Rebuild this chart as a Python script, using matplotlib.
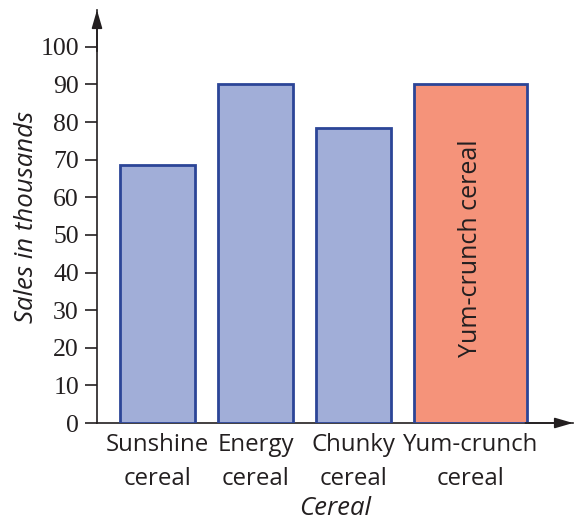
import matplotlib.pyplot as plt
import numpy as np

plt.rcParams['font.serif'] = ['Liberation Serif', 'DejaVu Serif']

# cereal sales (thousands)
cereals = ['Sunshine\ncereal', 'Energy\ncereal', 'Chunky\ncereal', 'Yum-crunch\ncereal']
sales = [68.5, 90, 78.5, 90]
inside_label = 'Yum-crunch cereal'

widths = [0.75, 0.75, 0.75, 1.13]
gap = 0.23
fills = ['#a1aed8', '#a1aed8', '#a1aed8', '#f5937a']
edge = '#2c4597'
ink = '#231f20'

lefts = []
pos = gap
for w in widths:
    lefts.append(pos)
    pos += w + gap
lefts = np.array(lefts)
centers = lefts + np.array(widths) / 2

fig = plt.figure(figsize=(5.75, 5.2), dpi=100)
ax = fig.add_axes([97 / 575, 97 / 520, 476 / 575, 413 / 520])

ax.bar(lefts, sales, width=widths, align='edge', color=fills,
       edgecolor=edge, linewidth=2, zorder=3)

ax.text(centers[3], 46.5, inside_label, rotation=90, ha='center', va='center',
        fontsize=18, family='Open Sans', color=ink)

ax.set_xlim(0, 4.76)
ax.set_ylim(0, 109.8)
ax.set_yticks(np.arange(0, 101, 10))
ax.set_yticklabels([str(v) for v in range(0, 101, 10)])
for lbl in ax.get_yticklabels():
    lbl.set_fontfamily('serif')
    lbl.set_fontsize(18.5)
    lbl.set_color(ink)
ax.set_xticks(centers)
ax.set_xticklabels(cereals)
for lbl in ax.get_xticklabels():
    lbl.set_fontfamily('Open Sans')
    lbl.set_fontsize(17.3)
    lbl.set_color(ink)
    lbl.set_linespacing(1.55)
ax.tick_params(axis='y', length=9, width=1.2, pad=4, color=ink)
ax.tick_params(axis='x', length=0, pad=7)

for s in ['top', 'right']:
    ax.spines[s].set_visible(False)
for s in ['left', 'bottom']:
    ax.spines[s].set_linewidth(1.2)
    ax.spines[s].set_color(ink)

# arrow heads
head = dict(arrowstyle='-|>,head_length=1.1,head_width=0.32', color=ink, lw=1.2,
            shrinkA=0, shrinkB=0)
ax.annotate('', xy=(1, 0), xytext=(0.9, 0), xycoords='axes fraction',
            arrowprops=head, annotation_clip=False)
ax.annotate('', xy=(0, 1), xytext=(0, 0.9), xycoords='axes fraction',
            arrowprops=head, annotation_clip=False)

ax.set_ylabel('Sales in thousands', family='Open Sans', style='italic',
              fontsize=18.5, color=ink, labelpad=1)
ax.set_xlabel('Cereal', family='Open Sans', style='italic', fontsize=18.5,
              color=ink, labelpad=4)

fig.savefig('out.png', dpi=100)
